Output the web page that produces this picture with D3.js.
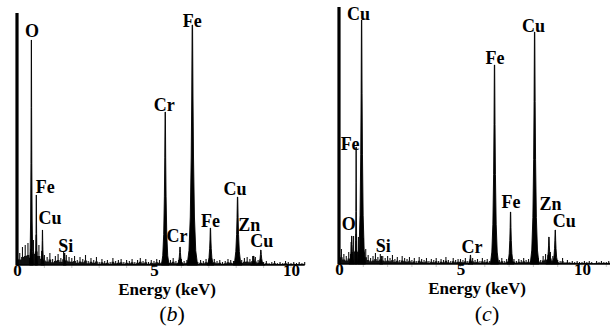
<!DOCTYPE html>
<html>
<head>
<meta charset="utf-8">
<script src="https://cdn.jsdelivr.net/npm/d3@7"></script>
<style>
  html, body { margin: 0; padding: 0; background: #fff; }
  svg { display: block; }
</style>
</head>
<body>
<svg id="chart" width="610" height="332"></svg>
<script>
// ---------- DATA ----------
const energyTicks = [0, 5, 10];
const axisTitle = "Energy (keV)";
const panelNames = ["b", "c"];

// panel (b)
const zeroPeakB = 252;
const peakLabelsB   = ["O", "Fe", "Cu", "Si", "Cr", "Cr", "Fe", "Fe", "Cu", "Zn", "Cu"];
const peakEnergiesB = [0.525, 0.705, 0.93, 1.74, 5.41, 5.95, 6.40, 7.06, 8.05, 8.64, 8.90];
const peakHeightsB  = [225, 70, 35, 12, 153, 18, 240, 37, 68, 9, 15];
const peakWidthsB   = [0.07, 0.05, 0.07, 0.06, 0.14, 0.12, 0.19, 0.13, 0.16, 0.11, 0.13];
const noiseB = [
  14,12,18,20,22,16,25,30,20,14,
  10,8,12,6,9,11,7,13,10,8,
  7,9,5,8,6,10,4,7,5,8,
  3,6,4,5,3,7,4,5,6,3,
  5,4,6,3,5,7,4,6,3,5,
  4,6,5,3,6,4,5,7,4,5,
  6,4,5,7,4,6,3,5,4,6,
  5,3,6,4,5,3,4,6,5,4,
  6,4,5,7,8,6,9,8,5,4,
  3,4,2,3,4,2,3,2,4,3,
  2,3,2,3,2,3
];

// panel (c)
const zeroPeakC = 257;
const peakLabelsC   = ["Cu", "Fe", "O", "Si", "Cr", "Fe", "Fe", "Cu", "Zn", "Cu"];
const peakEnergiesC = [0.93, 0.705, 0.525, 1.74, 5.41, 6.40, 7.06, 8.05, 8.64, 8.90];
const peakHeightsC  = [244, 117, 28, 8, 9, 199, 52, 232, 27, 34];
const peakWidthsC   = [0.16, 0.05, 0.12, 0.06, 0.10, 0.17, 0.14, 0.18, 0.13, 0.14];
const noiseC = [
  20,15,10,8,12,22,28,30,27,25,
  26,15,9,6,8,11,7,10,8,6,
  8,6,9,5,7,4,8,6,5,7,
  4,6,3,7,5,4,6,3,5,4,
  6,3,5,4,7,4,3,6,4,5,
  5,4,6,3,5,6,4,5,3,6,
  4,5,3,6,4,5,4,6,3,5,
  6,4,5,3,5,4,6,4,5,3,
  4,5,6,4,8,10,9,12,8,6,
  4,3,6,2,4,2,3,2,3,2,
  2,3,2,3,2,1,3,2,3,2,2,3,2
];

// ---------- LAYOUT / STYLE ----------
const FONT = "'Liberation Serif', 'Times New Roman', Times, serif";
const noiseStep = 0.1;
const peakProfile = [[0,1],[0.06,0.65],[0.2,0.4],[0.45,0.22],[0.7,0.12],[1,0.04]];
const labelOffsetB = [[0.5,-3],[9,-2],[7.5,-6],[1,-1],[-1,-1],[-3,-5],[0,2],[0,-1],[-2.5,-2],[-4.5,-25],[1,-3]];
const labelOffsetC = [[-3,0],[-6,3],[-3,-6],[2,-4],[1.5,-2],[0.5,-1],[0.5,-4],[-1,0],[1.5,-27],[9,-3]];

const panels = [
  { name: panelNames[0], x0: 17, x10: 291, base: 265, top: 15,
    zero: zeroPeakB, labels: peakLabelsB, energies: peakEnergiesB, heights: peakHeightsB,
    widths: peakWidthsB, noise: noiseB, offsets: labelOffsetB,
    titleX: 167, titleY: 295, capX: 172, capY: 321, tickY: 276, endE: 10.5 },
  { name: panelNames[1], x0: 339, x10: 582, base: 264, top: 14,
    zero: zeroPeakC, labels: peakLabelsC, energies: peakEnergiesC, heights: peakHeightsC,
    widths: peakWidthsC, noise: noiseC, offsets: labelOffsetC,
    titleX: 477, titleY: 294, capX: 487, capY: 321, tickY: 275, endE: 11.2 }
];

const svg = d3.select("#chart");

panels.forEach(p => {
  const x = d3.scaleLinear().domain([0, 10]).range([p.x0, p.x10]);
  const y = d3.scaleLinear().domain([0, 250]).range([p.base, p.base - 250]);
  const g = svg.append("g");

  // faint minor ticks below baseline
  g.selectAll("line.minor").data(d3.range(0, Math.floor(p.endE) + 1))
    .join("line")
    .attr("x1", d => x(d)).attr("x2", d => x(d))
    .attr("y1", p.base).attr("y2", p.base + 3)
    .attr("stroke", "#bbb").attr("stroke-width", 0.8);

  // baseline noise: low body + hair spikes
  const area = d3.area()
    .x((d, i) => x(i * noiseStep))
    .y0(y(0))
    .y1(d => y(d * 0.45))
    .curve(d3.curveStep);
  g.append("path").datum(p.noise)
    .attr("d", area)
    .attr("fill", "#111");
  g.selectAll("line.spike").data(p.noise).join("line")
    .attr("class", "spike")
    .attr("x1", (d, i) => x(i * noiseStep)).attr("x2", (d, i) => x(i * noiseStep))
    .attr("y1", y(0)).attr("y2", d => y(d))
    .attr("stroke", "#111").attr("stroke-width", 1.1);

  // baseline
  g.append("line")
    .attr("x1", x(0)).attr("x2", x(p.endE))
    .attr("y1", p.base).attr("y2", p.base)
    .attr("stroke", "#000").attr("stroke-width", 1.6);

  // zero peak / axis line
  g.append("line")
    .attr("x1", x(0)).attr("x2", x(0))
    .attr("y1", y(0)).attr("y2", y(p.zero))
    .attr("stroke", "#000").attr("stroke-width", 3.2);

  // peaks
  const line = d3.line().x(d => x(d[0])).y(d => y(d[1]));
  const peaks = p.energies.map((e, i) => ({ e, h: p.heights[i], w: p.widths[i], label: p.labels[i], off: p.offsets[i] }));
  g.selectAll("path.peak").data(peaks).join("path")
    .attr("class", "peak")
    .attr("d", d => {
      const left = peakProfile.map(([fh, fw]) => [d.e - fw * d.w, fh * d.h]);
      const right = peakProfile.slice().reverse().map(([fh, fw]) => [d.e + fw * d.w, fh * d.h]);
      return line(left.concat(right)) + "Z";
    })
    .attr("fill", "#000").attr("stroke", "#000").attr("stroke-width", 0.9)
    .attr("stroke-linejoin", "round");

  // peak labels
  g.selectAll("text.lab").data(peaks).join("text")
    .attr("class", "lab")
    .attr("x", d => x(d.e) + d.off[0])
    .attr("y", d => y(d.h) + d.off[1])
    .attr("text-anchor", "middle")
    .attr("font-family", FONT)
    .attr("font-weight", "bold").attr("font-size", 18)
    .attr("fill", "#000")
    .text(d => d.label);

  // x axis tick labels
  const axis = d3.axisBottom(x).tickValues(energyTicks).tickSize(0).tickPadding(0).tickFormat(d3.format("d"));
  const ax = g.append("g").attr("transform", `translate(0,${p.tickY})`).call(axis);
  ax.attr("font-family", FONT);
  ax.select(".domain").remove();
  ax.selectAll("text")
    .attr("dy", 0).attr("y", 0)
    .attr("font-family", FONT)
    .attr("font-weight", "bold").attr("font-size", 17)
    .attr("fill", "#000");

  // axis title
  g.append("text")
    .attr("x", p.titleX).attr("y", p.titleY)
    .attr("text-anchor", "middle")
    .attr("font-family", FONT)
    .attr("font-weight", "bold").attr("font-size", 17)
    .text(axisTitle);

  // caption
  const cap = g.append("text")
    .attr("x", p.capX).attr("y", p.capY)
    .attr("text-anchor", "middle")
    .attr("font-family", FONT)
    .attr("font-size", 22);
  cap.append("tspan").text("(");
  cap.append("tspan").attr("font-style", "italic").text(p.name);
  cap.append("tspan").text(")");
});
</script>
</body>
</html>
